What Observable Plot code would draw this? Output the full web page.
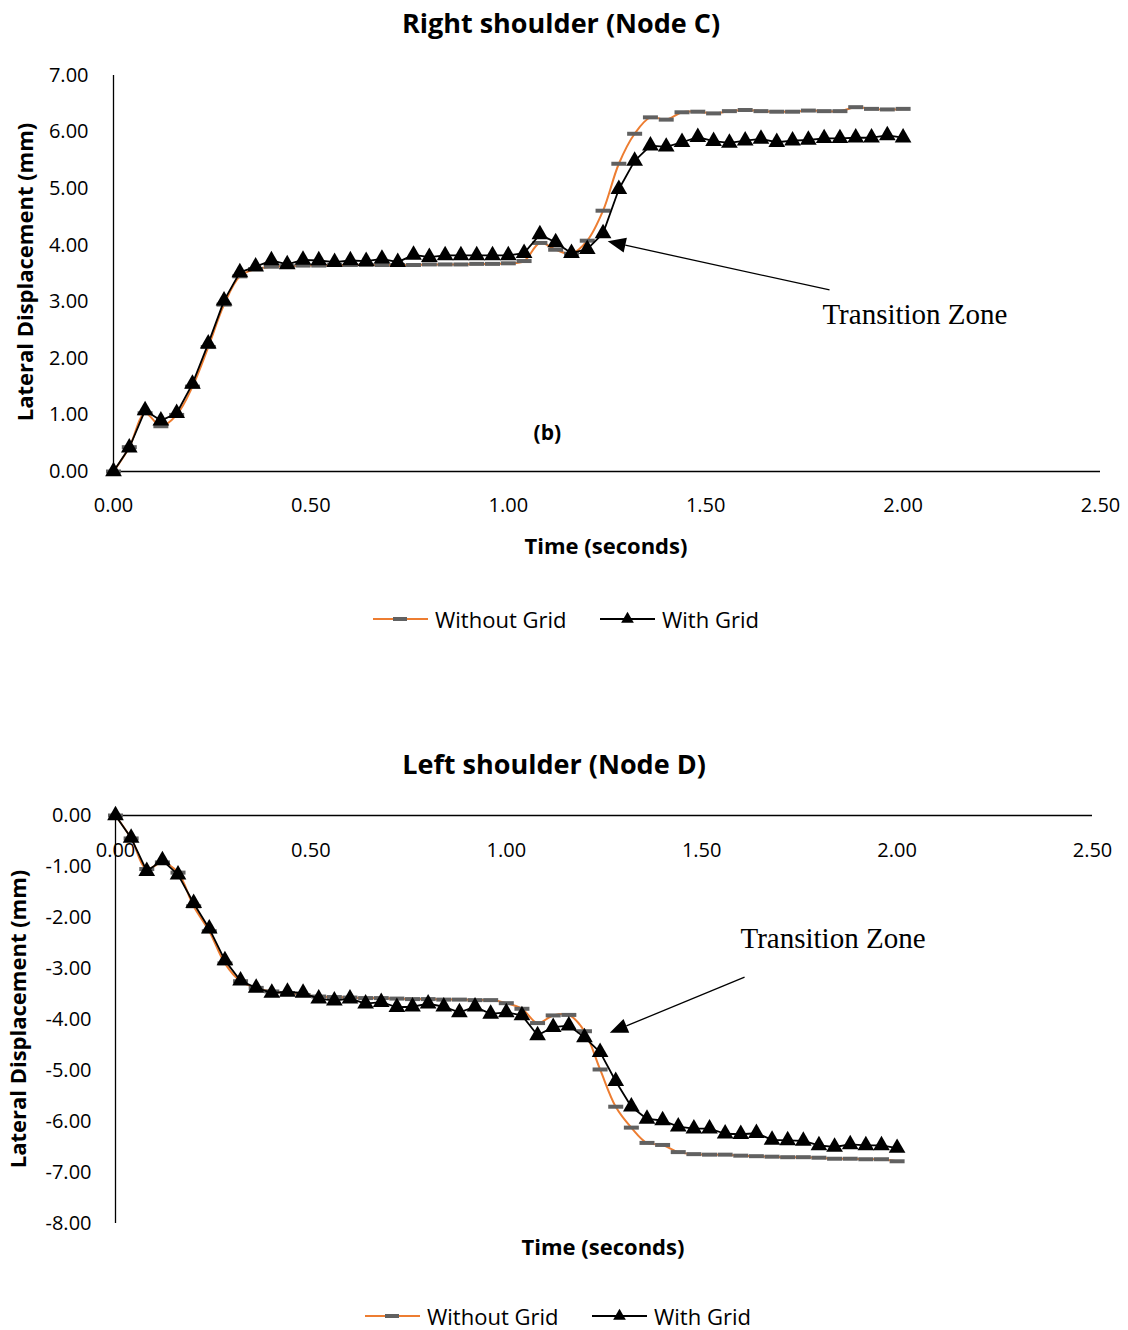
<!DOCTYPE html>
<html>
<head>
<meta charset="utf-8">
<script src="https://cdn.jsdelivr.net/npm/d3@7"></script>
<script src="https://cdn.jsdelivr.net/npm/@observablehq/plot@0.6"></script>
<style>
  body { margin: 0; background: #fff; }
  #page { position: relative; width: 1128px; height: 1330px; overflow: hidden; background: #fff;
          font-family: "Segoe UI", "Open Sans", "Noto Sans", sans-serif; color: #000; }
  .abs { position: absolute; white-space: nowrap; line-height: 1; }
  .c { transform: translate(-50%, -50%); }
  .title { font-weight: bold; font-size: 27px; }
  .axt { font-weight: bold; font-size: 22px; }
  .yt { transform: translate(-50%, -50%) rotate(-90deg); }
  .leg { font-size: 22px; transform: translateY(-50%); }
  .plot { position: absolute; left: 0; }
</style>
</head>
<body>
<div id="page"></div>
<script>
// ---------------- data ----------------
const time = [0.00, 0.04, 0.08, 0.12, 0.16, 0.20, 0.24, 0.28, 0.32, 0.36, 0.40, 0.44, 0.48, 0.52, 0.56, 0.60, 0.64,
  0.68, 0.72, 0.76, 0.80, 0.84, 0.88, 0.92, 0.96, 1.00, 1.04, 1.08, 1.12, 1.16, 1.20, 1.24, 1.28, 1.32, 1.36, 1.40,
  1.44, 1.48, 1.52, 1.56, 1.60, 1.64, 1.68, 1.72, 1.76, 1.80, 1.84, 1.88, 1.92, 1.96, 2.00];

// Right shoulder (Node C)
const nodeCWithout = [0.00, 0.43, 1.03, 0.80, 1.00, 1.50, 2.20, 2.95, 3.45, 3.58, 3.62, 3.63, 3.64, 3.64, 3.65, 3.65,
  3.65, 3.65, 3.65, 3.65, 3.66, 3.66, 3.66, 3.67, 3.67, 3.68, 3.72, 4.04, 3.92, 3.85, 4.08, 4.61, 5.44, 5.97, 6.26,
  6.22, 6.35, 6.36, 6.33, 6.37, 6.39, 6.37, 6.36, 6.36, 6.38, 6.37, 6.37, 6.44, 6.41, 6.40, 6.41];
const nodeCWith = [0.00, 0.42, 1.08, 0.90, 1.03, 1.55, 2.26, 3.02, 3.52, 3.62, 3.73, 3.66, 3.74, 3.73, 3.70, 3.73,
  3.72, 3.76, 3.70, 3.83, 3.79, 3.82, 3.82, 3.82, 3.82, 3.82, 3.86, 4.19, 4.05, 3.86, 3.93, 4.21, 4.99, 5.49, 5.76,
  5.74, 5.82, 5.91, 5.84, 5.81, 5.85, 5.88, 5.82, 5.85, 5.86, 5.89, 5.89, 5.90, 5.90, 5.94, 5.90];

// Left shoulder (Node D)
const nodeDWithout = [0.00, -0.45, -1.05, -0.92, -1.12, -1.78, -2.27, -2.90, -3.25, -3.38, -3.45, -3.48, -3.52, -3.55,
  -3.56, -3.57, -3.58, -3.58, -3.59, -3.60, -3.60, -3.61, -3.61, -3.62, -3.62, -3.68, -3.79, -4.07, -3.92, -3.91,
  -4.23, -4.98, -5.71, -6.12, -6.42, -6.46, -6.60, -6.64, -6.65, -6.65, -6.67, -6.68, -6.69, -6.70, -6.70, -6.71,
  -6.73, -6.73, -6.74, -6.74, -6.78];
const nodeDWith = [0.00, -0.44, -1.09, -0.88, -1.16, -1.72, -2.22, -2.84, -3.24, -3.38, -3.48, -3.46, -3.48, -3.59,
  -3.63, -3.59, -3.69, -3.66, -3.76, -3.75, -3.69, -3.75, -3.86, -3.75, -3.89, -3.86, -3.92, -4.31, -4.15, -4.12,
  -4.35, -4.64, -5.21, -5.71, -5.95, -5.98, -6.10, -6.14, -6.14, -6.24, -6.25, -6.23, -6.36, -6.37, -6.38, -6.47,
  -6.50, -6.45, -6.47, -6.47, -6.52];

const xTicks = [0, 0.5, 1.0, 1.5, 2.0, 2.5];
const yTicksC = [0, 1, 2, 3, 4, 5, 6, 7];
const yTicksD = [0, -1, -2, -3, -4, -5, -6, -7, -8];

const titleC = "Right shoulder (Node C)";
const titleD = "Left shoulder (Node D)";
const xTitle = "Time (seconds)";
const yTitle = "Lateral Displacement (mm)";
const seriesNames = ["Without Grid", "With Grid"];

// annotations (data coordinates)
const annC = {text: "Transition Zone", tx: 2.03, ty: 2.77, x1: 1.815, y1: 3.20, x2: 1.253, y2: 4.06, label: "(b)", lx: 1.099, ly: 0.67};
const annD = {text: "Transition Zone", tx: 1.836, ty: -2.41, x1: 1.611, y1: -3.18, x2: 1.266, y2: -4.27};

// ---------------- styles ----------------
const ORANGE = "#ED7D31";
const DASHGRAY = "#616161";
const FONT = '"Segoe UI", "Open Sans", "Noto Sans", sans-serif';

const dashSymbol = { draw(context) { context.rect(-7.5, -2, 15, 4); } };

function arrowMark(a) {
  return (index, scales) => {
    const g = d3.create("svg:g");
    const x1 = scales.x(a.x1), y1 = scales.y(a.y1), x2 = scales.x(a.x2), y2 = scales.y(a.y2);
    const ang = Math.atan2(y2 - y1, x2 - x1);
    const L = 18, W = 7.5;
    const bx = x2 - L * Math.cos(ang), by = y2 - L * Math.sin(ang);
    g.append("line").attr("x1", x1).attr("y1", y1).attr("x2", bx).attr("y2", by)
      .attr("stroke", "#000").attr("stroke-width", 1.3);
    g.append("path")
      .attr("d", `M${x2},${y2}L${bx + W * Math.sin(ang)},${by - W * Math.cos(ang)}L${bx - W * Math.sin(ang)},${by + W * Math.cos(ang)}Z`)
      .attr("fill", "#000");
    return g.node();
  };
}

function makeChart(vals, cfg) {
  const data = time.map((t, i) => ({t, without: vals.without[i], with: vals.with[i]}));
  const marks = [
    Plot.ruleY([0], {stroke: "#000", strokeWidth: 1.3}),
    Plot.ruleX([0], {stroke: "#000", strokeWidth: 1.3}),
    Plot.text(xTicks, {x: d => d, y: 0, text: d => d.toFixed(2), dy: cfg.xLabelDy, fontSize: 20}),
    Plot.line(data, {x: "t", y: "without", stroke: ORANGE, strokeWidth: 2, curve: "catmull-rom"}),
    Plot.dot(data, {x: "t", y: "without", symbol: dashSymbol, fill: DASHGRAY, stroke: "none"}),
    Plot.line(data, {x: "t", y: "with", stroke: "#000", strokeWidth: 1.8}),
    Plot.dot(data, {x: "t", y: "with", symbol: "triangle", fill: "#000", stroke: "none", r: 6.2}),
    Plot.text([cfg.ann], {x: "tx", y: "ty", text: "text", fontFamily: '"Liberation Serif", "Times New Roman", serif', fontSize: 29}),
    arrowMark(cfg.ann)
  ];
  if (cfg.ann.label) {
    marks.push(Plot.text([cfg.ann], {x: "lx", y: "ly", text: "label", fontWeight: "bold", fontSize: 21}));
  }
  return Plot.plot({
    width: 1128,
    height: cfg.height,
    marginTop: cfg.mt, marginBottom: cfg.mb, marginLeft: cfg.ml, marginRight: cfg.mr,
    x: {domain: [0, 2.5], axis: null},
    y: {domain: cfg.yDomain, ticks: cfg.yTicks, tickFormat: d => d.toFixed(2), tickSize: 0, tickPadding: cfg.tp, label: null},
    style: {fontFamily: FONT, fontSize: "20px", background: "transparent", color: "#000", overflow: "visible"},
    marks
  });
}

const page = document.getElementById("page");

function addText(txt, cls, x, y) {
  const d = document.createElement("div");
  d.className = "abs " + cls;
  d.style.left = x + "px";
  d.style.top = y + "px";
  d.textContent = txt;
  page.appendChild(d);
  return d;
}

function addLegend(y, x0, x1) {
  // Without Grid symbol
  const s1 = d3.create("svg").attr("width", 60).attr("height", 20)
    .style("position", "absolute").style("left", (x0 - 2) + "px").style("top", (y - 10) + "px");
  s1.append("line").attr("x1", 2).attr("x2", 57).attr("y1", 10).attr("y2", 10).attr("stroke", ORANGE).attr("stroke-width", 2);
  s1.append("rect").attr("x", 22).attr("y", 8).attr("width", 14).attr("height", 4).attr("fill", DASHGRAY);
  page.appendChild(s1.node());
  addText(seriesNames[0], "leg", x0 + 62, y);
  // With Grid symbol
  const s2 = d3.create("svg").attr("width", 60).attr("height", 20)
    .style("position", "absolute").style("left", (x1 - 2) + "px").style("top", (y - 10) + "px");
  s2.append("line").attr("x1", 2).attr("x2", 57).attr("y1", 10).attr("y2", 10).attr("stroke", "#000").attr("stroke-width", 2);
  s2.append("path").attr("d", d3.symbol(d3.symbolTriangle, 70)()).attr("transform", "translate(29.5,10)").attr("fill", "#000");
  page.appendChild(s2.node());
  addText(seriesNames[1], "leg", x1 + 62, y);
}

// ---- Chart C ----
const chartC = makeChart({without: nodeCWithout, with: nodeCWith},
  {height: 530, mt: 75, mb: 59, ml: 113, mr: 28, yDomain: [0, 7], yTicks: yTicksC, tp: 25, xLabelDy: 34, ann: annC});
chartC.classList.add("plot");
chartC.style.top = "0px";
page.appendChild(chartC);
addText(titleC, "title c", 561, 22);
addText(yTitle, "axt yt", 24, 272);
addText(xTitle, "axt c", 606, 545);
addLegend(619, 373, 600);

// ---- Chart D ----
const chartD = makeChart({without: nodeDWithout, with: nodeDWith},
  {height: 455, mt: 35, mb: 12, ml: 115, mr: 36, yDomain: [-8, 0], yTicks: yTicksD, tp: 24, xLabelDy: 35, ann: annD});
chartD.classList.add("plot");
chartD.style.top = "780px";
page.appendChild(chartD);
addText(titleD, "title c", 554, 763);
addText(yTitle, "axt yt", 17, 1019);
addText(xTitle, "axt c", 603, 1246);
addLegend(1316, 365, 592);
</script>
</body>
</html>
